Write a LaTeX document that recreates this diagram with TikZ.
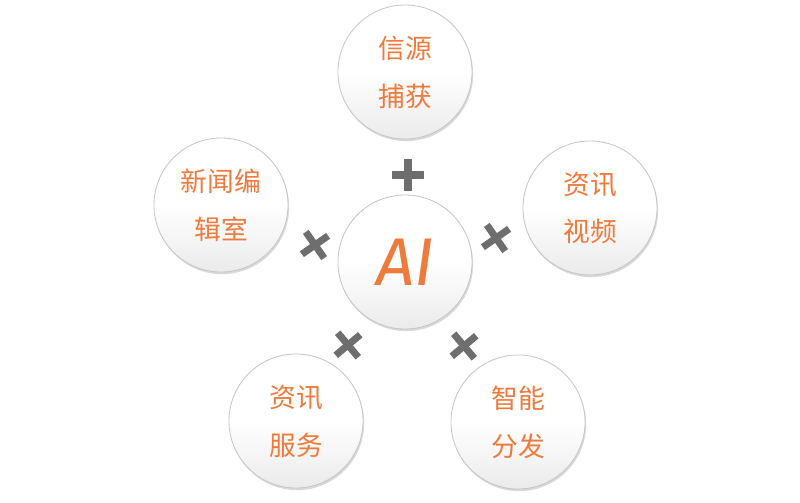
\documentclass[tikz,border=0pt]{standalone}
\usepackage{fontspec}
\newfontfamily\cjk{Noto Sans CJK SC}
\newfontfamily\ailogo{Fira Sans Italic}
\usepackage{xcolor}
\usetikzlibrary{shadows,positioning}
\definecolor{aiorange}{HTML}{EE7A3C}
\definecolor{plusgray}{HTML}{6E6E6E}
\tikzset{
  bubble/.style={circle,draw=gray!45,line width=0.6pt,minimum size=3.35cm,
    top color=white,bottom color=gray!16,middle color=white,
    drop shadow={shadow xshift=0.8pt,shadow yshift=-1.5pt,opacity=0.3},
    text=aiorange,font=\cjk\fontsize{19}{34}\selectfont,align=center},
  plusmark/.style={draw=plusgray,line width=5pt}
}
\begin{document}
\begin{tikzpicture}[x=0.025cm,y=-0.025cm]
	\useasboundingbox (0,0) rectangle (800,502);
	% five outer bubbles
	\node[bubble] (xinyuan) at (405,72) {信源\\捕获};
	\node[bubble] (bianji) at (221,205) {新闻编\\辑室};
	\node[bubble] (shipin) at (590,208) {资讯\\视频};
	\node[bubble] (fuwu) at (296,421) {资讯\\服务};
	\node[bubble] (fenfa) at (518,422) {智能\\分发};
	% center
	\node[bubble,font=\ailogo\fontsize{48}{48}\selectfont] (ai) at (405,262) {AI};
	% plus signs
	\foreach \px/\py/\rot in {408/175/0, 315/245/35, 496/238/35, 348/345/40, 464/346/40}{
		\begin{scope}[shift={(\px,\py)},rotate=\rot]
			\draw[plusmark] (-16,0) -- (16,0);
			\draw[plusmark] (0,-16) -- (0,16);
		\end{scope}
	}
\end{tikzpicture}
\end{document}
